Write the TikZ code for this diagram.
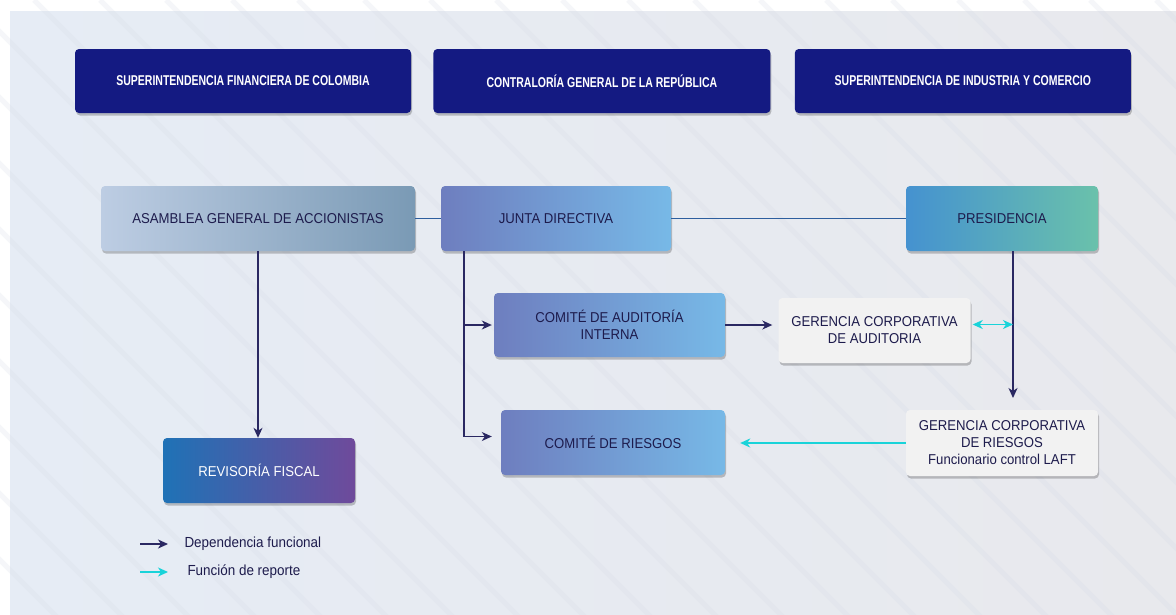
\documentclass[tikz,border=0pt]{standalone}
\usepackage{fontspec}
\setmainfont{Liberation Sans}
\newfontfamily\bodyfont[FakeStretch=0.92]{Liberation Sans}
\newfontfamily\condfont[FakeStretch=0.74]{Liberation Sans}
\usetikzlibrary{positioning, arrows.meta, shadows, calc}
\definecolor{orgnavy}{HTML}{141A82}
\definecolor{orgtext}{HTML}{1D1B4C}
\definecolor{orgdep}{HTML}{2A2862}
\definecolor{orglink}{HTML}{2D5E9E}
\definecolor{orgcyan}{HTML}{19D3D9}
\definecolor{orggray}{HTML}{F2F2F2}
\definecolor{bgleft}{HTML}{E6ECF5}
\definecolor{bgright}{HTML}{E8E9ED}
\definecolor{stripe}{HTML}{D5DAE6}
\definecolor{ColAsmL}{HTML}{BDCDE3}
\definecolor{ColAsmR}{HTML}{7A9AB5}
\definecolor{ColJunL}{HTML}{6E7EBF}
\definecolor{ColJunR}{HTML}{77B9E7}
\definecolor{ColPreL}{HTML}{4592D0}
\definecolor{ColPreR}{HTML}{6AC1AB}
\definecolor{ColRevL}{HTML}{1F72B6}
\definecolor{ColRevR}{HTML}{6F4A9B}

\begin{document}
\begin{tikzpicture}[
  x=1pt, y=-1pt, >={Stealth[length=10pt, width=9pt, inset=3pt]},
  font=\bodyfont\fontsize{14.3}{17}\selectfont, text=orgtext,
  box/.style={rounded corners=4pt, minimum height=65pt, align=center, inner sep=2pt,
    drop shadow={shadow xshift=1pt, shadow yshift=-2.5pt, opacity=0.22, fill=black}},
  topbox/.style={box, fill=orgnavy, text=white, minimum width=336pt, minimum height=64pt,
    font=\condfont\bfseries\fontsize{14.2}{17}\selectfont},
  graybox/.style={box, fill=orggray, minimum width=192pt},
  dep/.style={->, line width=1.4pt, orgdep},
  link/.style={line width=1.4pt, orglink},
  rep/.style={->, line width=1.4pt, orgcyan},
  legtext/.style={anchor=west, font=\bodyfont\fontsize{14.6}{17}\selectfont}
]
% fondo
\useasboundingbox (0,0) rectangle (1176,614);
\fill[white] (0,0) rectangle (1176,614);
\shade[left color=bgleft, right color=bgright] (10,11) rectangle (1176,614);
\begin{scope}
\clip (0,0) rectangle (1176,614);
\foreach \s in {-560,-494,...,1180}
  \draw[stripe, line width=5pt, opacity=0.22] (\s,0) -- ++(660,660);
\end{scope}

% entes de control
\node[topbox] (sfc) at (243,81) {SUPERINTENDENCIA FINANCIERA DE COLOMBIA};
\node[topbox, right=22pt of sfc, minimum width=337pt] (cgr) {CONTRALORÍA GENERAL DE LA REPÚBLICA};
\node[topbox, right=24pt of cgr] (sic) {SUPERINTENDENCIA DE INDUSTRIA Y COMERCIO};

% organos de gobierno
\node[box, minimum width=314pt, left color=ColAsmL, right color=ColAsmR] (asamblea) at (258,218.5) {ASAMBLEA GENERAL DE ACCIONISTAS};
\node[box, minimum width=230pt, left color=ColJunL, right color=ColJunR] (junta) at (556,218.5) {JUNTA DIRECTIVA};
\node[box, minimum width=192pt, left color=ColPreL, right color=ColPreR] (presidencia) at (1002,218.5) {PRESIDENCIA};
\node[box, minimum width=231pt, minimum height=64pt, left color=ColJunL, right color=ColJunR] (cauditoria) at (609.5,325) {COMITÉ DE AUDITORÍA\\INTERNA};
\node[graybox] (gauditoria) at (874.5,330.5) {GERENCIA CORPORATIVA\\DE AUDITORIA};
\node[box, minimum width=224pt, left color=ColJunL, right color=ColJunR] (criesgos) at (613,442.5) {COMITÉ DE RIESGOS};
\node[graybox, minimum height=66pt] (griesgos) at (1002,443) {GERENCIA CORPORATIVA\\DE RIESGOS\\Funcionario control LAFT};
\node[box, minimum width=192pt, left color=ColRevL, right color=ColRevR, text=white] (revisoria) at (259,470.5) {REVISORÍA FISCAL};

% conexiones
\draw[link] (asamblea) -- (junta);
\draw[link] (junta) -- (presidencia);
\draw[dep] (asamblea.south) -- (asamblea.south |- revisoria.north);
\coordinate (jbranch) at ($(junta.south west)+(23,0)$);
\draw[dep] (jbranch) |- ([xshift=-2pt]cauditoria.west);
\draw[dep] (jbranch) |- ([xshift=-9pt, yshift=6pt]criesgos.west);
\draw[dep, shorten >=6pt] (cauditoria.east) -- (cauditoria.east -| gauditoria.west);
\coordinate (pbranch) at ([xshift=11pt]presidencia.south);
\draw[dep] (pbranch) -- (pbranch |- 0,398);
\draw[rep, <->, shorten <=2pt] ([yshift=6pt]gauditoria.east) -- ([yshift=6pt]gauditoria.east -| pbranch);
\draw[rep] (griesgos.west) -- ([xshift=15pt]criesgos.east |- griesgos.west);

% convenciones
\coordinate (ldepa) at (140,544);
\coordinate (ldepb) at (168,544);
\coordinate (lrepa) at (140,572);
\coordinate (lrepb) at (168,572);
\draw[dep] (ldepa) -- (ldepb);
\draw[rep] (lrepa) -- (lrepb);
\node[legtext] (legdep) at (181,544) {Dependencia funcional};
\node[legtext] (legrep) at (184,572) {Función de reporte};
\end{tikzpicture}
\end{document}
